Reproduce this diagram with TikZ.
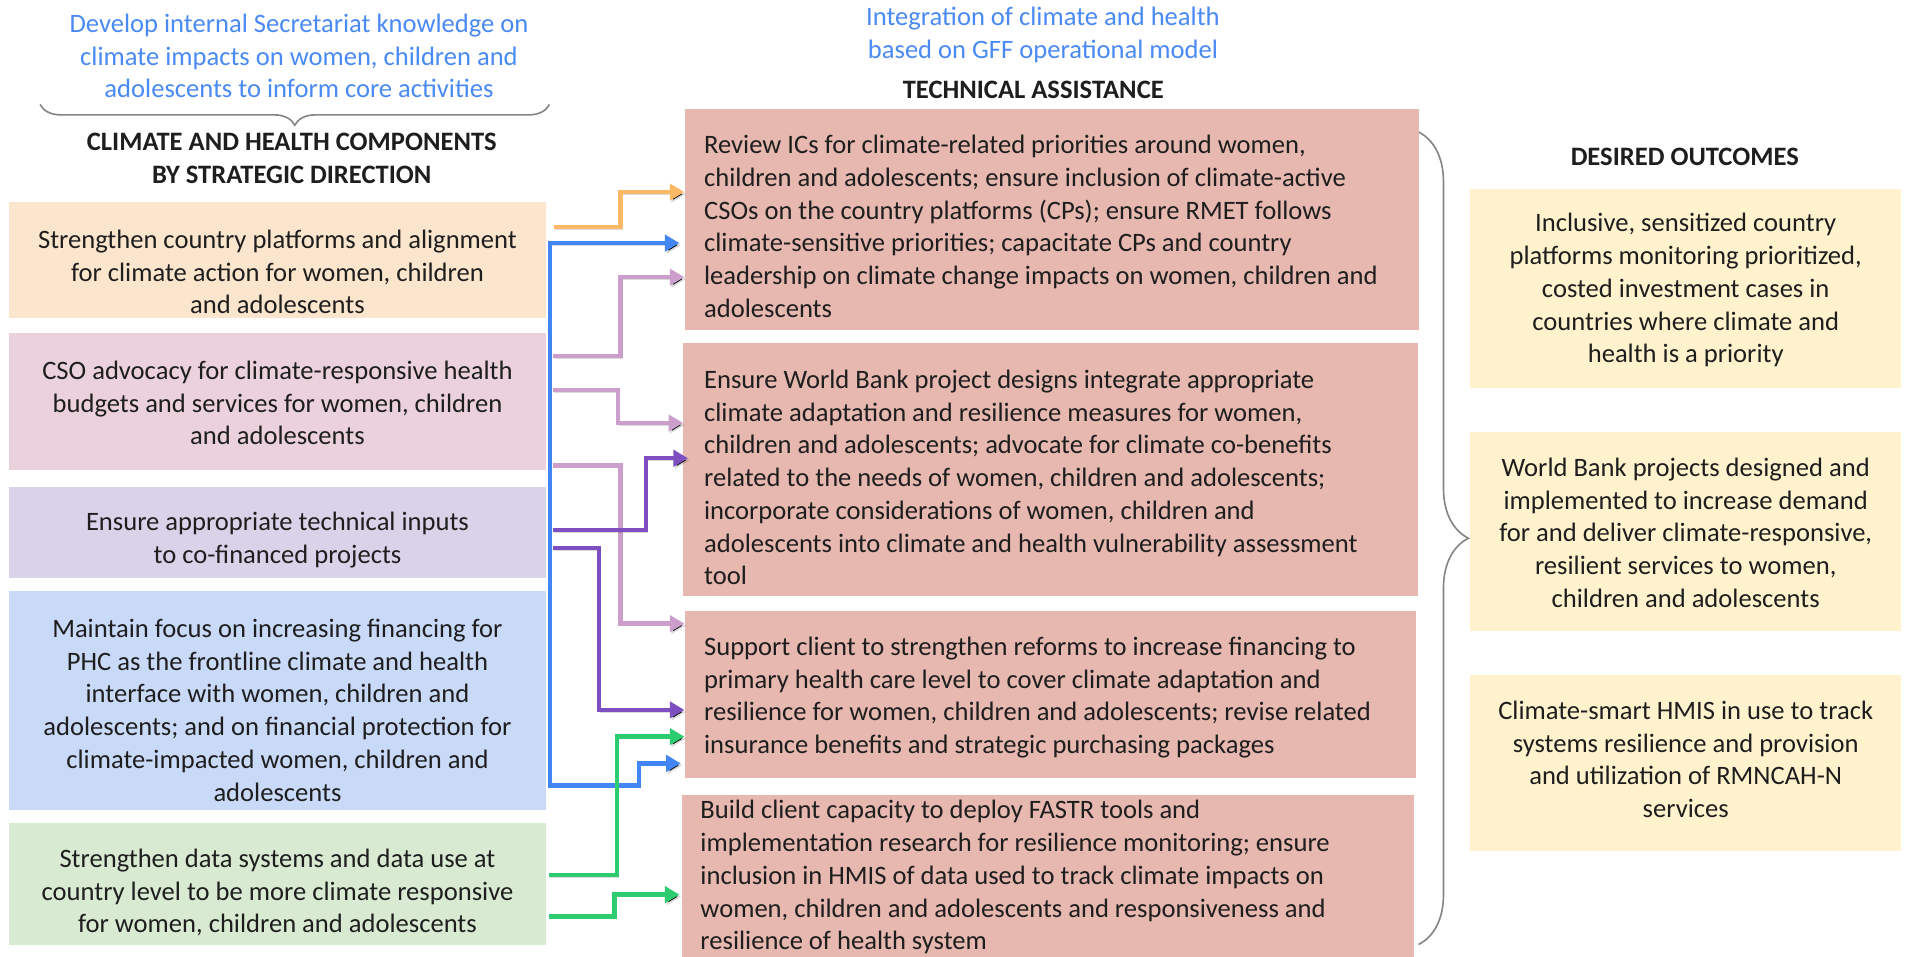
\documentclass[tikz,border=0pt]{standalone}
\usepackage{fontspec}
\setmainfont{Carlito}
\usepackage{tikz}
\usetikzlibrary{calc,arrows.meta,decorations.pathreplacing}

\definecolor{cpfill}{HTML}{FCE5CD}
\definecolor{csofill}{HTML}{EAD1DC}
\definecolor{tifill}{HTML}{D9D2E9}
\definecolor{finfill}{HTML}{C9DAF8}
\definecolor{datafill}{HTML}{D9EAD3}
\definecolor{tafill}{HTML}{E6B8AF}
\definecolor{outfill}{HTML}{FFF2CC}
\definecolor{noteblue}{HTML}{4A8AF4}
\definecolor{txt}{HTML}{1E1E1E}
\definecolor{bracegray}{HTML}{858585}
\definecolor{cparr}{HTML}{FFB966}
\definecolor{finarr}{HTML}{4285F4}
\definecolor{csoarr}{HTML}{CC9ECB}
\definecolor{tiarr}{HTML}{7E4FC0}
\definecolor{dataarr}{HTML}{2ECC71}

\newcommand{\diagfont}{\fontsize{16.4}{20.2}\selectfont}

\tikzset{
  sdbox/.style={anchor=north west, inner sep=0pt, minimum width=331.5pt},
  tabox/.style={anchor=north west, inner sep=0pt, fill=tafill},
  outbox/.style={anchor=north west, inner sep=0pt, fill=outfill, minimum width=266.25pt},
  boxtext/.style={inner sep=0pt, align=center, text=txt, font=\diagfont},
  tatext/.style={anchor=west, inner sep=0pt, align=left, text=txt, font=\diagfont},
  heading/.style={inner sep=0.75pt, align=center, text=txt, font=\diagfont\bfseries},
  note/.style={inner sep=0.75pt, align=center, text=noteblue, font=\diagfont},
  link/.style={line width=2.7pt, -{Triangle[length=9pt,width=10pt]},
    preaction={draw=black, draw opacity=0.14, transform canvas={shift={(1pt,-1.3pt)}}}},
  curly/.style={decorate, draw=bracegray, line width=1pt},
}

\begin{document}
\begin{tikzpicture}[x=0.75pt,y=0.75pt,yscale=-1,xscale=1]
    %set diagram size
    \path[use as bounding box, fill=white] (0,0) rectangle (1568,787);

    % Text Node
    \draw (246,46) node (devnote) [note] {Develop internal Secretariat knowledge on\\climate impacts on women, children and\\adolescents to inform core activities};
    % Text Node
    \draw (240,130.5) node (chhead) [heading] {CLIMATE AND HEALTH COMPONENTS\\BY STRATEGIC DIRECTION};
    % Text Node
    \draw (858,28.5) node (intnote) [note] {Integration of climate and health\\based on GFF operational model};
    % Text Node
    \draw (850,74) node (tahead) [heading] {TECHNICAL ASSISTANCE};
    % Text Node
    \draw (1386,129) node (outhead) [heading] {DESIRED OUTCOMES};

    %Shape: Brace
    \draw [curly, decoration={brace, mirror, amplitude=12.75pt}] (33,86) -- (452,86);
    %Shape: Brace
    \draw [curly, decoration={brace, amplitude=30.75pt}] (1167,108.6) -- (1167,777);

    %Shape: Rectangle (strategic directions)
    \draw (7,166) node (cp) [sdbox, fill=cpfill, minimum height=71.25pt] {};
    \draw (7,274) node (cso) [sdbox, fill=csofill, minimum height=84.5pt] {};
    \draw (7,400) node (ti) [sdbox, fill=tifill, minimum height=56.7pt] {};
    \draw (7,486) node (fin) [sdbox, fill=finfill, minimum height=135pt] {};
    \draw (7,677) node (data) [sdbox, fill=datafill, minimum height=75pt] {};
    % Text Node
    \draw ($(cp.center)+(0,10)$) node (cptext) [boxtext] {Strengthen country platforms and alignment\\for climate action for women, children\\and adolescents};
    \draw ($(cso.center)+(0,1)$) node (csotext) [boxtext] {CSO advocacy for climate-responsive health\\budgets and services for women, children\\and adolescents};
    \draw ($(ti.center)+(0,6)$) node (titext) [boxtext] {Ensure appropriate technical inputs\\to co-financed projects};
    \draw ($(fin.center)+(0,8)$) node (fintext) [boxtext] {Maintain focus on increasing financing for\\PHC as the frontline climate and health\\interface with women, children and\\adolescents; and on financial protection for\\climate-impacted women, children and\\adolescents};
    \draw ($(data.center)+(0,7)$) node (datatext) [boxtext] {Strengthen data systems and data use at\\country level to be more climate responsive\\for women, children and adolescents};

    %Shape: Rectangle (technical assistance)
    \draw (563,89) node (ta1) [tabox, minimum width=453pt, minimum height=136.5pt] {};
    \draw (562,282) node (ta2) [tabox, minimum width=453pt, minimum height=156pt] {};
    \draw (563,502) node (ta3) [tabox, minimum width=451.5pt, minimum height=103.5pt] {};
    \draw (561,654) node (ta4) [tabox, minimum width=451.5pt, minimum height=105pt] {};
    % Text Node
    \draw ($(ta1.west)+(16,6)$) node (ta1text) [tatext] {Review ICs for climate-related priorities around women,\\children and adolescents; ensure inclusion of climate-active\\CSOs on the country platforms (CPs); ensure RMET follows\\climate-sensitive priorities; capacitate CPs and country\\leadership on climate change impacts on women, children and\\adolescents};
    \draw ($(ta2.west)+(17,6.5)$) node (ta2text) [tatext] {Ensure World Bank project designs integrate appropriate\\climate adaptation and resilience measures for women,\\children and adolescents; advocate for climate co-benefits\\related to the needs of women, children and adolescents;\\incorporate considerations of women, children and\\adolescents into climate and health vulnerability assessment\\tool};
    \draw ($(ta3.west)+(16,2.5)$) node (ta3text) [tatext] {Support client to strengthen reforms to increase financing to\\primary health care level to cover climate adaptation and\\resilience for women, children and adolescents; revise related\\insurance benefits and strategic purchasing packages};
    \draw ($(ta4.west)+(15,-2.5)$) node (ta4text) [tatext] {Build client capacity to deploy FASTR tools and\\implementation research for resilience monitoring; ensure\\inclusion in HMIS of data used to track climate impacts on\\women, children and adolescents and responsiveness and\\resilience of health system};

    %Shape: Rectangle (outcomes)
    \draw (1209,155) node (out1) [outbox, minimum height=123pt] {};
    \draw (1209,355) node (out2) [outbox, minimum height=123pt] {};
    \draw (1209,555) node (out3) [outbox, minimum height=108.75pt] {};
    % Text Node
    \draw ($(out1.center)+(0,1.5)$) node (out1text) [boxtext] {Inclusive, sensitized country\\platforms monitoring prioritized,\\costed investment cases in\\countries where climate and\\health is a priority};
    \draw ($(out2.center)+(0,1)$) node (out2text) [boxtext] {World Bank projects designed and\\implemented to increase demand\\for and deliver climate-responsive,\\resilient services to women,\\children and adolescents};
    \draw ($(out3.center)+(0,-3)$) node (out3text) [boxtext] {Climate-smart HMIS in use to track\\systems resilience and provision\\and utilization of RMNCAH-N\\services};

    %Connectors
    \draw [link, csoarr] ($(cso.north east)+(5,19)$) -- ++(56,0) |- ($(ta1.north west)+(0,139)$);
    \draw [link, csoarr] ($(cso.north east)+(5,47)$) -- ++(54,0) |- ($(ta2.north west)+(0,66)$);
    \draw [link, csoarr] ($(cso.north east)+(5,109)$) -- ++(56,0) |- ($(ta3.north west)+(0,11)$);
    \draw [link, tiarr] ($(ti.north east)+(5,36)$) -- ++(77,0) |- ($(ta2.north west)+(4,95)$);
    \draw [link, tiarr] ($(ti.north east)+(5,51)$) -- ++(38,0) |- ($(ta3.north west)+(0,82)$);
    \draw [link, cparr] ($(cp.north east)+(6,21)$) -- ++(55,0) |- ($(ta1.north west)+(0,69)$);
    \coordinate (fintrunk) at ($(fin.east)+(3,0)$);
    \draw [link, finarr] (fintrunk) |- ($(ta1.north west)+(-4,111)$);
    \draw [link, finarr] (fintrunk) |- ++(73,70) |- ($(ta3.north west)+(-3,126)$);
    \draw [link, dataarr] ($(data.north east)+(2,43)$) -- ++(56,0) |- ($(ta3.north west)+(0,104)$);
    \draw [link, dataarr] ($(data.north east)+(2,77)$) -- ++(54,0) |- ($(ta4.north west)+(-2,82)$);

\end{tikzpicture}
\end{document}
